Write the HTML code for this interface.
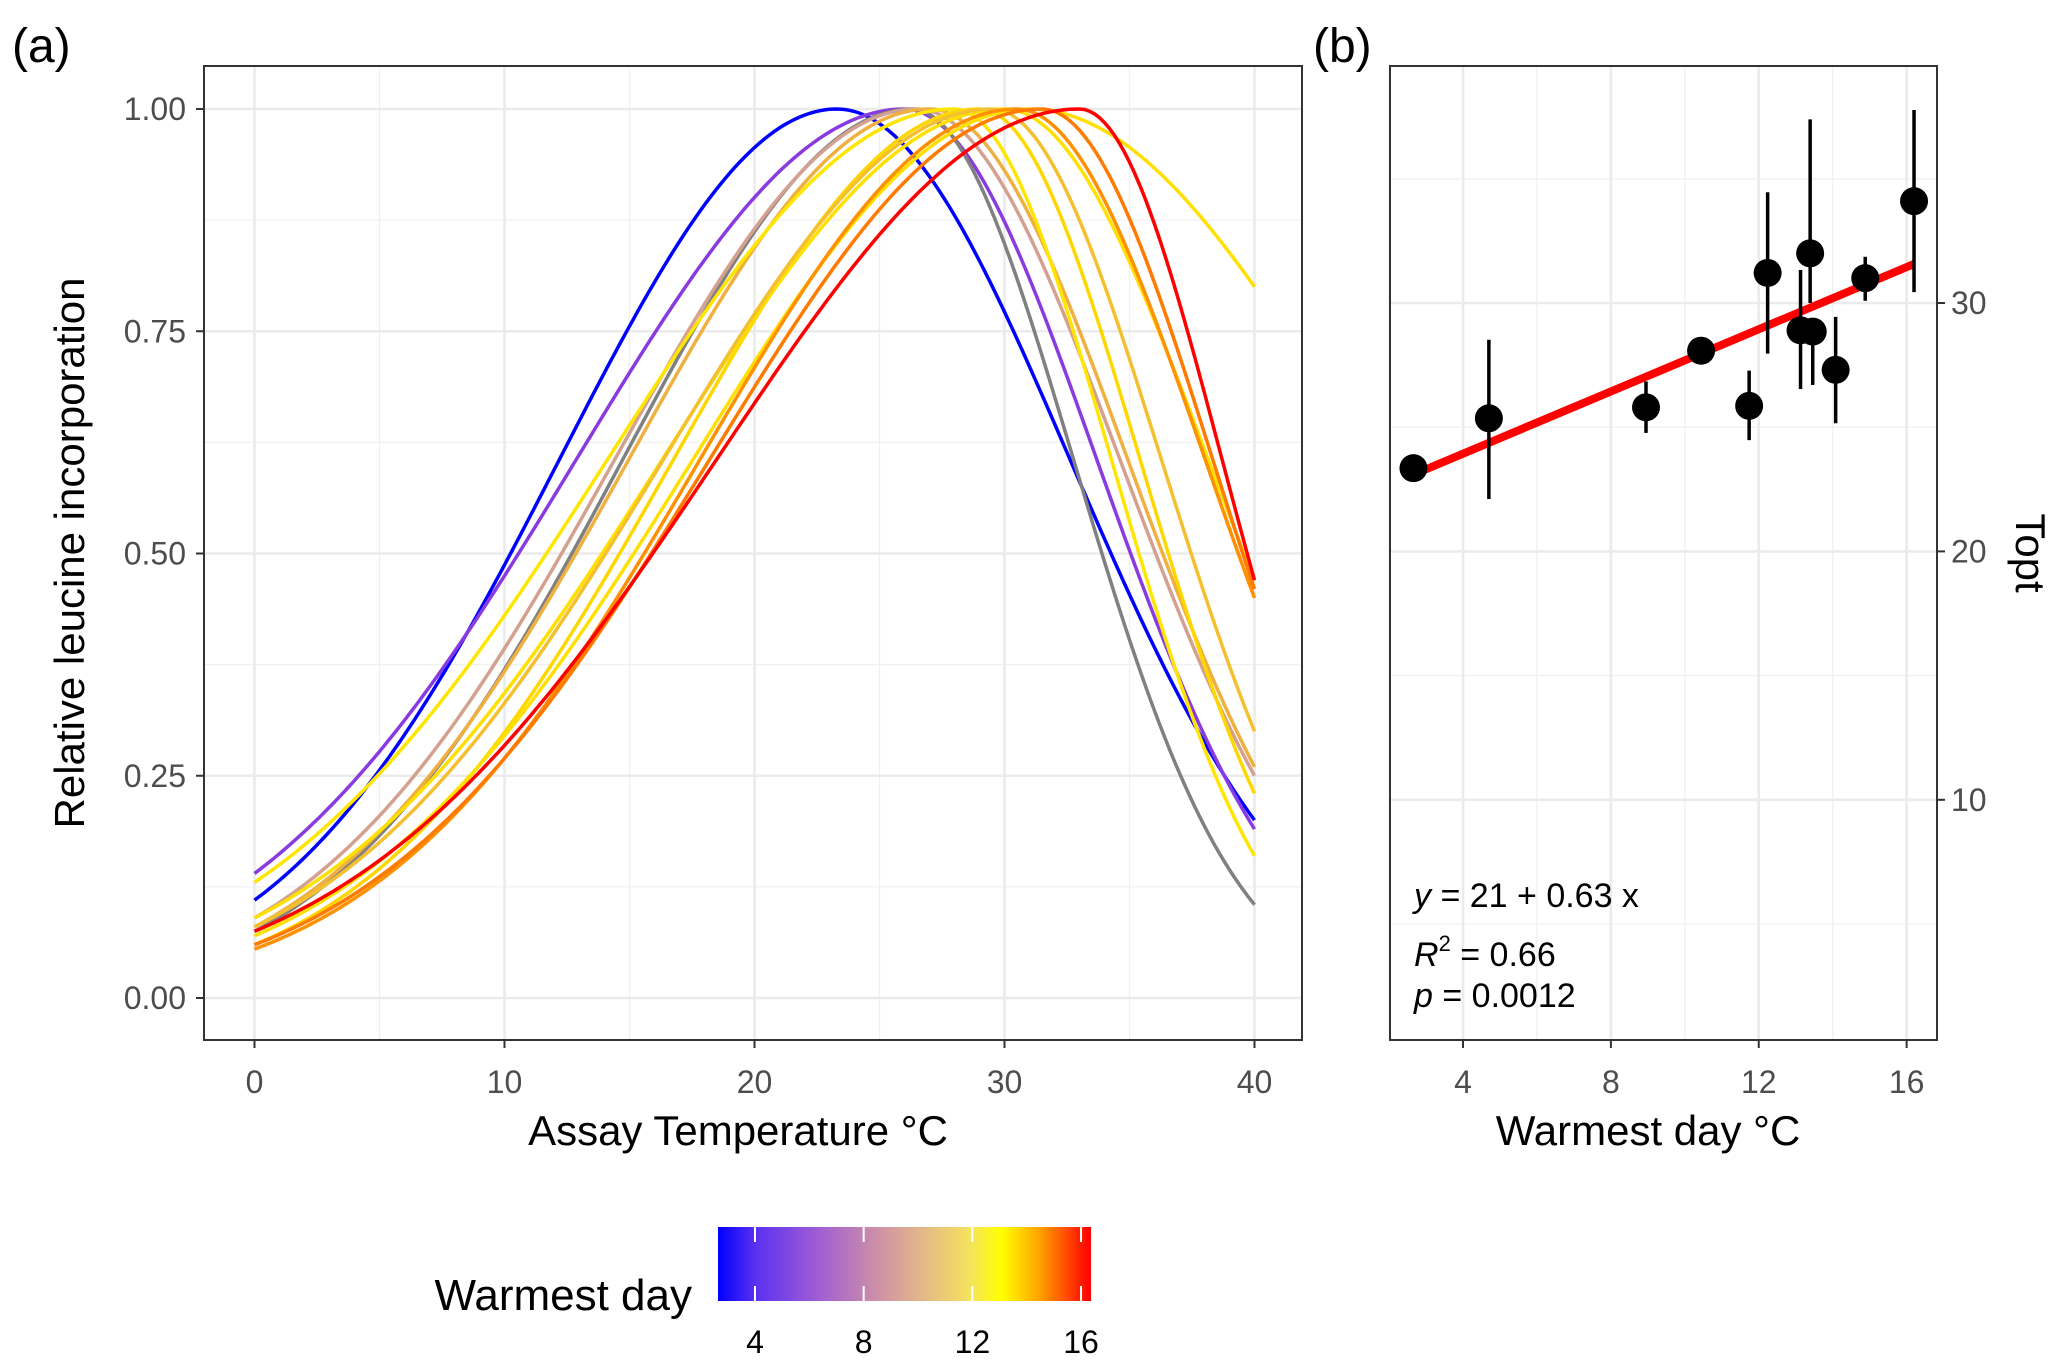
<!DOCTYPE html>
<html><head><meta charset="utf-8"><style>
html,body{margin:0;padding:0;background:#fff;}
svg{display:block;font-family:"Liberation Sans",sans-serif;}
</style></head><body>
<svg id="chart" width="2067" height="1371" viewBox="0 0 2067 1371" xmlns="http://www.w3.org/2000/svg">
<defs>
<linearGradient id="cbar" x1="0" x2="1" y1="0" y2="0">
<stop offset="0" stop-color="#0000ff"/>
<stop offset="0.1" stop-color="#5a30f0"/>
<stop offset="0.25" stop-color="#9a58d8"/>
<stop offset="0.42" stop-color="#cc8ea8"/>
<stop offset="0.55" stop-color="#e4b888"/>
<stop offset="0.68" stop-color="#f5e45a"/>
<stop offset="0.76" stop-color="#ffff00"/>
<stop offset="0.86" stop-color="#ffa500"/>
<stop offset="0.97" stop-color="#ff2000"/>
<stop offset="1" stop-color="#ff0000"/>
</linearGradient>
</defs>
<g id="gA"></g>
<g id="gB"></g>
<g id="gL"></g>
</svg>
<script>
// Panel (a) curve data
const curveColors = ["#0000ff","#8a3be0","#808080","#d4a090","#f0b040","#ffe600","#ffd700","#ffe000","#f5c030","#ffe000","#ff9000","#ff7a00","#ff0000"];
const curveTopt =   [23.3, 26.0, 26.3, 26.5, 27.0, 28.0, 29.0, 30.0, 29.5, 31.0, 30.5, 31.5, 33.0];
const curveAt0 =    [0.11, 0.14, 0.075, 0.09, 0.08, 0.13, 0.06, 0.09, 0.08, 0.07, 0.055, 0.06, 0.075];
const curveAt40 =   [0.20, 0.19, 0.105, 0.25, 0.26, 0.16, 0.23, 0.47, 0.30, 0.80, 0.45, 0.46, 0.47];
const xTicksA = [0,10,20,30,40];
const yTicksA = [0,0.25,0.5,0.75,1.0];
const yTickLabelsA = ["0.00","0.25","0.50","0.75","1.00"];
// Panel (b) data
const warmest = [2.66, 4.70, 8.95, 10.44, 11.74, 12.24, 13.13, 13.39, 13.46, 14.08, 14.88, 16.2];
const topt =    [23.35, 25.36, 25.8, 28.08, 25.86, 31.21, 28.9, 32.0, 28.85, 27.31, 31.0, 34.1];
const toptLo =  [23.35, 22.11, 24.77, 28.08, 24.48, 27.96, 26.54, 30.0, 26.7, 25.16, 30.09, 30.44];
const toptHi =  [23.35, 28.52, 26.84, 28.08, 27.28, 34.46, 31.33, 37.39, 28.85, 29.44, 31.86, 37.77];
const fitIntercept = 21.43;
const fitSlope = 0.626;
const xTicksB = [4,8,12,16];
const yTicksB = [10,20,30];
const legendTicks = [4,8,12,16];

const NS="http://www.w3.org/2000/svg";
function mk(parent,tag,attrs,text){const e=document.createElementNS(NS,tag);for(const k in attrs)e.setAttribute(k,attrs[k]);if(text!==undefined)e.textContent=text;parent.appendChild(e);return e;}

// ---------- Panel A ----------
const gA=document.getElementById('gA');
const A={l:204,r:1302,t:66,b:1040};
const xA=v=>254.5+v*25;
const yA=v=>998-v*889;
mk(gA,'rect',{x:A.l,y:A.t,width:A.r-A.l,height:A.b-A.t,fill:'#fff'});
for(let v=5;v<=35;v+=10){const l=mk(gA,'line',{x1:xA(v),x2:xA(v),y1:A.t,y2:A.b,stroke:'#f0f0f0','stroke-width':1.3});

}
for(let v=0.125;v<1.1;v+=0.25){const l=mk(gA,'line',{x1:A.l,x2:A.r,y1:yA(v),y2:yA(v),stroke:'#f0f0f0','stroke-width':1.3});

}
xTicksA.forEach(v=>{const l=mk(gA,'line',{x1:xA(v),x2:xA(v),y1:A.t,y2:A.b,stroke:'#ebebeb','stroke-width':2.6});


mk(gA,'line',{x1:xA(v),x2:xA(v),y1:A.b,y2:A.b+8,stroke:'#333','stroke-width':2});
const t=mk(gA,'text',{x:xA(v),y:1093,'font-size':32,fill:'#4d4d4d','text-anchor':'middle'},String(v));

});
yTicksA.forEach((v,i)=>{const l=mk(gA,'line',{x1:A.l,x2:A.r,y1:yA(v),y2:yA(v),stroke:'#ebebeb','stroke-width':2.6});


mk(gA,'line',{x1:A.l-8,x2:A.l,y1:yA(v),y2:yA(v),stroke:'#333','stroke-width':2});
const t=mk(gA,'text',{x:186,y:yA(v)+11,'font-size':32,fill:'#4d4d4d','text-anchor':'end'},yTickLabelsA[i]);

});
curveColors.forEach((c,i)=>{
  const T=curveTopt[i];
  const sL=T/Math.sqrt(2*Math.log(1/curveAt0[i]));
  const sR=(40-T)/Math.sqrt(2*Math.log(1/curveAt40[i]));
  let d='';
  for(let k=0;k<=200;k++){const x=k*0.2;const s=x<T?sL:sR;const y=Math.exp(-(x-T)*(x-T)/(2*s*s));d+=(k?'L':'M')+xA(x).toFixed(1)+','+yA(y).toFixed(1);}
  const p=mk(gA,'path',{d:d,fill:'none',stroke:c,'stroke-width':3.5});
  
  
});
const bA=mk(gA,'rect',{x:A.l,y:A.t,width:A.r-A.l,height:A.b-A.t,fill:'none',stroke:'#333','stroke-width':2});


let t;
t=mk(gA,'text',{x:738,y:1145,'font-size':42,fill:'#000','text-anchor':'middle'},'Assay Temperature °C');


t=mk(gA,'text',{x:0,y:0,'font-size':42,fill:'#000','text-anchor':'middle',transform:'translate(84,553) rotate(-90)'},'Relative leucine incorporation');


t=mk(gA,'text',{x:12,y:62,'font-size':48,fill:'#000'},'(a)');



// ---------- Panel B ----------
const gB=document.getElementById('gB');
const B={l:1390,r:1937,t:66,b:1040};
const xB=v=>1463+(v-4)*36.97;
const yB=v=>303-(v-30)*24.84;
for(let v=2;v<=16;v+=4){const l=mk(gB,'line',{x1:xB(v),x2:xB(v),y1:B.t,y2:B.b,stroke:'#f0f0f0','stroke-width':1.3});

}
for(let v=5;v<=35;v+=10){const l=mk(gB,'line',{x1:B.l,x2:B.r,y1:yB(v),y2:yB(v),stroke:'#f0f0f0','stroke-width':1.3});

}
xTicksB.forEach(v=>{const l=mk(gB,'line',{x1:xB(v),x2:xB(v),y1:B.t,y2:B.b,stroke:'#ebebeb','stroke-width':2.6});


mk(gB,'line',{x1:xB(v),x2:xB(v),y1:B.b,y2:B.b+8,stroke:'#333','stroke-width':2});
const tt=mk(gB,'text',{x:xB(v),y:1093,'font-size':32,fill:'#4d4d4d','text-anchor':'middle'},String(v));

});
yTicksB.forEach(v=>{const l=mk(gB,'line',{x1:B.l,x2:B.r,y1:yB(v),y2:yB(v),stroke:'#ebebeb','stroke-width':2.6});


mk(gB,'line',{x1:B.r,x2:B.r+8,y1:yB(v),y2:yB(v),stroke:'#333','stroke-width':2});
const tt=mk(gB,'text',{x:1951,y:yB(v)+11,'font-size':32,fill:'#4d4d4d'},String(v));

});
const x0=warmest[0], x1=warmest[warmest.length-1];
const fl=mk(gB,'line',{x1:xB(x0),y1:yB(fitIntercept+fitSlope*x0),x2:xB(x1),y2:yB(fitIntercept+fitSlope*x1),stroke:'#ff0000','stroke-width':8});


warmest.forEach((w,i)=>{
  const eb=mk(gB,'line',{x1:xB(w),x2:xB(w),y1:yB(toptLo[i]),y2:yB(toptHi[i]),stroke:'#000','stroke-width':3.5});
  
  
  const c=mk(gB,'circle',{cx:xB(w),cy:yB(topt[i]),r:14,fill:'#000'});
  
  
});
const bB=mk(gB,'rect',{x:B.l,y:B.t,width:B.r-B.l,height:B.b-B.t,fill:'none',stroke:'#333','stroke-width':2});


t=mk(gB,'text',{x:1414,y:907,'font-size':34,fill:'#000'});
t.innerHTML='<tspan font-style="italic">y</tspan> = 21 + 0.63 x';


t=mk(gB,'text',{x:1414,y:966,'font-size':34,fill:'#000'});
t.innerHTML='<tspan font-style="italic">R</tspan><tspan dy="-15" font-size="22">2</tspan><tspan dy="15"> = 0.66</tspan>';


t=mk(gB,'text',{x:1414,y:1007,'font-size':34,fill:'#000'});
t.innerHTML='<tspan font-style="italic">p</tspan> = 0.0012';


t=mk(gB,'text',{x:1648,y:1145,'font-size':42,fill:'#000','text-anchor':'middle'},'Warmest day °C');


t=mk(gB,'text',{x:0,y:0,'font-size':42,fill:'#000','text-anchor':'middle',transform:'translate(2016,553) rotate(90)'},'Topt');


t=mk(gB,'text',{x:1313,y:62,'font-size':48,fill:'#000'},'(b)');



// ---------- Legend ----------
const gL=document.getElementById('gL');
const xL=v=>755+(v-4)*27.17;
const cb=mk(gL,'rect',{x:718,y:1227,width:373,height:74,fill:'url(#cbar)'});


legendTicks.forEach(v=>{
  mk(gL,'line',{x1:xL(v),x2:xL(v),y1:1227,y2:1242,stroke:'#fff','stroke-width':2});
  mk(gL,'line',{x1:xL(v),x2:xL(v),y1:1286,y2:1301,stroke:'#fff','stroke-width':2});
  const tt=mk(gL,'text',{x:xL(v),y:1353,'font-size':32,fill:'#000','text-anchor':'middle'},String(v));
  
  
});
t=mk(gL,'text',{x:692,y:1310,'font-size':44,fill:'#000','text-anchor':'end'},'Warmest day');


</script>
</body></html>
